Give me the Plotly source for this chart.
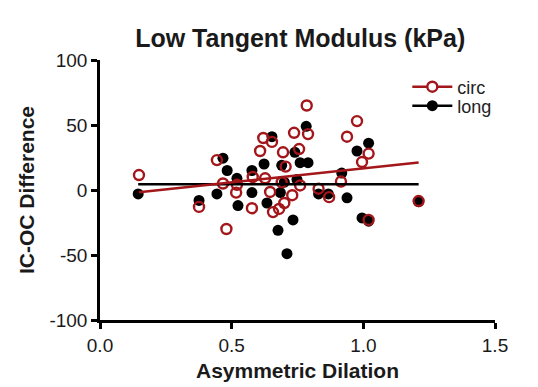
import plotly.graph_objects as go
import numpy as np

circ_x = [0.148, 0.376, 0.444, 0.467, 0.48, 0.52, 0.517, 0.577, 0.58, 0.608, 0.62, 0.627,
          0.646, 0.653, 0.657, 0.68, 0.69, 0.695, 0.70, 0.705, 0.73, 0.737, 0.756, 0.76,
          0.785, 0.79, 0.83, 0.87, 0.915, 0.938, 0.976, 0.995, 1.02, 1.02, 1.21]
circ_y = [11.5, -13, 23, 5, -30, 4, -2, -14, 10, 30, 40, 9,
          -1.5, 37, -17, -14.6, 6, 29, -10, 18, -4, 44, 31.5, 3.5,
          65, 43, 1, -5.5, 6.5, 41, 53, 21.5, 28, -23, -8.5]

long_x = [0.145, 0.376, 0.444, 0.467, 0.483, 0.52, 0.524, 0.577, 0.577, 0.623, 0.634,
          0.653, 0.676, 0.685, 0.69, 0.71, 0.733, 0.74, 0.748, 0.76, 0.783, 0.79, 0.83,
          0.867, 0.918, 0.938, 0.976, 0.995, 1.02, 1.02, 1.21, 0.70]
long_y = [-3, -8, -3, 24.5, 15, 9, -12, 15, -2, 20, -10,
          41, -31, -2, 19, -49, -23, 29, 8, 21, 49, 21, -3,
          -3, 13, -6, 30, -21.5, 36, -24, -9, 6]

# linear fits: (intercept, slope)
circ_fit = (-4.9, 21.6)
long_fit = (4.4, 0.0)

x_ticks = [0.0, 0.5, 1.0, 1.5]
y_ticks = [-100, -50, 0, 50, 100]

RED = "#a3161a"
BLACK = "#000000"
FONT = "Arial, Liberation Sans"

fig = go.Figure()

def fit_line(xs, fit):
    xr = np.array([min(xs), max(xs)])
    return xr, fit[0] + fit[1] * xr

cx, cy = fit_line(circ_x, circ_fit)
lx, ly = fit_line(long_x, long_fit)

fig.add_trace(go.Scatter(x=long_x, y=long_y, mode="markers", showlegend=False,
                         marker=dict(color=BLACK, size=11, symbol="circle")))
fig.add_trace(go.Scatter(x=circ_x, y=circ_y, mode="markers", showlegend=False,
                         marker=dict(color="rgba(0,0,0,0)", size=10, symbol="circle",
                                     line=dict(color=RED, width=2.4))))
fig.add_trace(go.Scatter(x=lx, y=ly, mode="lines", showlegend=False,
                         line=dict(color=BLACK, width=2.5)))
fig.add_trace(go.Scatter(x=cx, y=cy, mode="lines", showlegend=False,
                         line=dict(color=RED, width=2.5)))

# legend entries
fig.add_trace(go.Scatter(x=[None], y=[None], mode="lines+markers", name="circ",
                         legend="legend",
                         line=dict(color=RED, width=2.5),
                         marker=dict(color="white", size=10, symbol="circle",
                                     line=dict(color=RED, width=2.4))))
fig.add_trace(go.Scatter(x=[None], y=[None], mode="lines+markers", name="long",
                         legend="legend2",
                         line=dict(color=BLACK, width=2.5),
                         marker=dict(color=BLACK, size=11, symbol="circle")))

axis_common = dict(showline=True, linecolor="black", linewidth=2.5, ticks="outside",
                   tickwidth=2.5, ticklen=6, tickcolor="black", showgrid=False,
                   zeroline=False, tickfont=dict(family=FONT, size=19, color="#1a1a1a"),
                   mirror=False, automargin=False)

fig.update_xaxes(range=[0, 1.5], tickvals=x_ticks, ticktext=[f"{v:.1f}" for v in x_ticks],
                 title=dict(text="<b>Asymmetric Dilation</b>", standoff=9,
                            font=dict(family=FONT, size=21, color="#1a1a1a")),
                 **axis_common)
fig.update_yaxes(range=[-100, 100], tickvals=y_ticks, ticktext=[str(v) for v in y_ticks],
                 title=dict(text="<b>IC-OC Difference</b>", standoff=10,
                            font=dict(family=FONT, size=21, color="#1a1a1a")),
                 **axis_common)

legend_common = dict(xanchor="left", yanchor="middle", bgcolor="rgba(0,0,0,0)",
                     font=dict(family=FONT, size=18, color="#222"), itemwidth=40)

fig.update_layout(
    width=538, height=387,
    margin=dict(l=100, r=43, t=60, b=67),
    paper_bgcolor="white", plot_bgcolor="white",
    title=dict(text="<b>Low Tangent Modulus (kPa)</b>", x=0.558, xanchor="center",
               y=0.9, yanchor="middle",
               font=dict(family=FONT, size=25, color="#1a1a1a")),
    legend=dict(x=0.778, y=0.896, **legend_common),
    legend2=dict(x=0.778, y=0.823, **legend_common),
    showlegend=True,
)

fig.write_html("out.html")
